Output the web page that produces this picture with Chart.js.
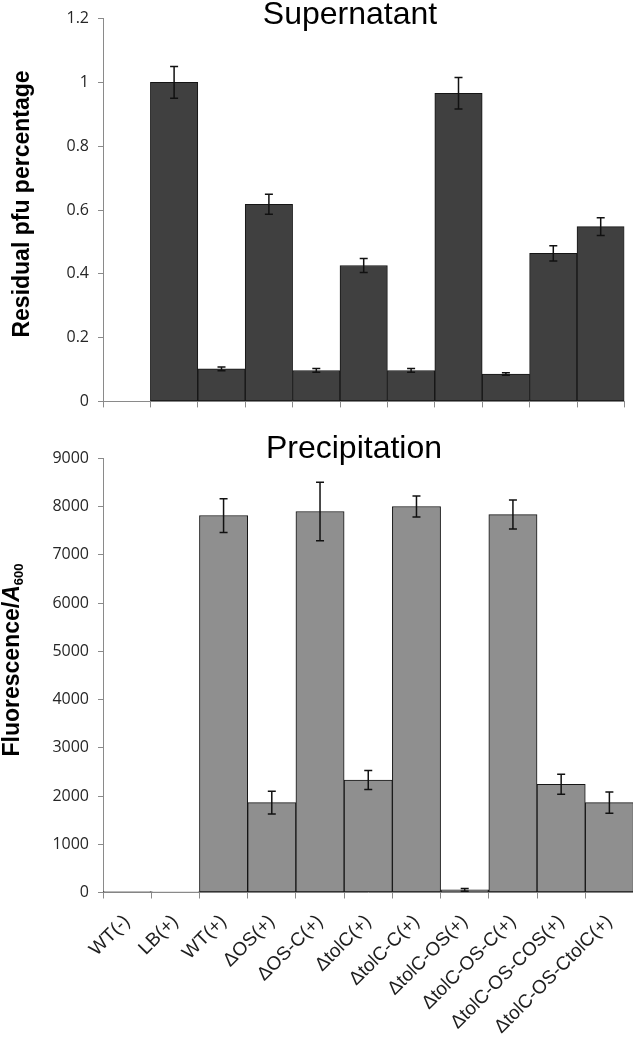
<!DOCTYPE html>
<html>
<head>
<meta charset="utf-8">
<script src="https://cdn.jsdelivr.net/npm/chart.js@4.4.1/dist/chart.umd.min.js"></script>
<style>
  html, body { margin: 0; padding: 0; background: #fff; overflow: hidden; }
  #wrap { position: relative; width: 633px; height: 1037px; overflow: hidden; }
  canvas { position: absolute; left: 0; }
  #chart-super  { top: 0; }
  #chart-precip { top: 420px; }
</style>
</head>
<body>
<div id="wrap">
  <canvas id="chart-super" width="633" height="420"></canvas>
  <canvas id="chart-precip" width="640" height="617"></canvas>
</div>
<script>
/* Supernatant / Precipitation bar panels with error bars */

const CATEGORIES = ["WT(-)", "LB(+)", "WT(+)", "ΔOS(+)", "ΔOS-C(+)", "ΔtolC(+)", "ΔtolC-C(+)",
                    "ΔtolC-OS(+)", "ΔtolC-OS-C(+)", "ΔtolC-OS-COS(+)", "ΔtolC-OS-CtolC(+)"];

const SUPER_VALUES = [null, 1.0, 0.102, 0.618, 0.097, 0.426, 0.097, 0.966, 0.086, 0.464, 0.548];
const SUPER_ERRORS = [null, 0.05, 0.006, 0.031, 0.006, 0.022, 0.006, 0.049, 0.004, 0.024, 0.028];
const SUPER_AXIS   = { min: 0, max: 1.2, step: 0.2 };

const PRECIP_VALUES = [20, 15, 7814, 1862, 7897, 2332, 8000, 55, 7834, 2242, 1862];
const PRECIP_ERRORS = [0, 0, 350, 235, 607, 195, 217, 30, 300, 207, 220];
const PRECIP_AXIS   = { min: 0, max: 9000, step: 1000 };

const AXIS_COLOR = "#8a8a8a";
const TICK_COLOR = "#262626";
const SANS  = "'Liberation Sans', Arial, sans-serif";
const TICKF = "'Open Sans', sans-serif";

/* ── error bars from the y scale ── */
const errorBars = {
  id: "errorBars",
  afterDatasetsDraw(chart, args, opts) {
    const { ctx } = chart;
    const y = chart.scales.y;
    const vals = chart.data.datasets[0].data;
    ctx.save();
    ctx.strokeStyle = "#111";
    ctx.lineWidth = 1.5;
    chart.getDatasetMeta(0).data.forEach((bar, i) => {
      const v = vals[i], e = opts.errors[i];
      if (v == null || !e) return;
      const t = y.getPixelForValue(v + e);
      const b = y.getPixelForValue(Math.max(0, v - e));
      ctx.beginPath();
      ctx.moveTo(bar.x, t);     ctx.lineTo(bar.x, b);
      ctx.moveTo(bar.x - 4, t); ctx.lineTo(bar.x + 4, t);
      ctx.moveTo(bar.x - 4, b); ctx.lineTo(bar.x + 4, b);
      ctx.stroke();
    });
    ctx.restore();
  },
};

/* ── panel title + rotated y title ── */
const panelText = {
  id: "panelText",
  afterDraw(chart, args, o) {
    const { ctx } = chart;
    ctx.save();
    ctx.fillStyle = "#000";
    ctx.textBaseline = "alphabetic";
    ctx.textAlign = "center";
    ctx.font = "32px " + SANS;
    ctx.fillText(o.title, o.titleX, o.titleY);

    ctx.translate(o.yTitleX, o.yTitleY);
    ctx.rotate(-Math.PI / 2);
    ctx.textAlign = "left";
    const widths = o.yTitle.map(p => { ctx.font = p.font; return ctx.measureText(p.text).width; });
    let x = -widths.reduce((a, b) => a + b, 0) / 2;
    o.yTitle.forEach((p, i) => {
      ctx.font = p.font;
      ctx.fillText(p.text, x, p.dy || 0);
      x += widths[i];
    });
    ctx.restore();
  },
};

function makePanel(id, cfg) {
  return new Chart(document.getElementById(id), {
    type: "bar",
    data: {
      labels: CATEGORIES,
      datasets: [{
        data: cfg.values,
        backgroundColor: cfg.fill,
        borderColor: "#151515",
        borderWidth: 1,
        borderSkipped: false,
        categoryPercentage: 1,
        barPercentage: 1,
      }],
    },
    options: {
      responsive: false,
      animation: false,
      layout: { padding: cfg.padding },
      plugins: {
        legend: { display: false },
        tooltip: { enabled: false },
        errorBars: { errors: cfg.errors },
        panelText: cfg.text,
      },
      scales: {
        x: {
          grid: { offset: true, drawOnChartArea: false, tickLength: 6, color: AXIS_COLOR },
          border: { color: AXIS_COLOR },
          ticks: cfg.xTicks,
          afterFit: s => { s.height = cfg.xHeight; },
        },
        y: {
          min: cfg.axis.min,
          max: cfg.axis.max,
          grid: { drawOnChartArea: false, tickLength: 5, color: AXIS_COLOR },
          border: { color: AXIS_COLOR },
          ticks: {
            stepSize: cfg.axis.step,
            padding: 9,
            color: TICK_COLOR,
            font: { family: TICKF, size: 16 },
            callback: v => String(+v.toFixed(1)),
          },
          afterFit: s => { s.width = 103; },
        },
      },
    },
    plugins: [errorBars, panelText],
  });
}

/* ── 상단: Supernatant ── */
makePanel("chart-super", {
  values: SUPER_VALUES,
  errors: SUPER_ERRORS,
  axis: SUPER_AXIS,
  fill: "#404040",
  padding: { left: 0, right: 8.6, top: 11.7, bottom: 0 },
  xHeight: 17.3,
  xTicks: { display: false },
  text: {
    title: "Supernatant", titleX: 350, titleY: 24,
    yTitleX: 29, yTitleY: 204,
    yTitle: [{ text: "Residual pfu percentage", font: "bold 23px " + SANS }],
  },
});

/* ── 하단: Precipitation ── */
makePanel("chart-precip", {
  values: PRECIP_VALUES,
  errors: PRECIP_ERRORS,
  axis: PRECIP_AXIS,
  fill: "#8f8f8f",
  padding: { left: 0, right: 6.5, top: 38.3, bottom: 0 },
  xHeight: 144.5,
  xTicks: {
    autoSkip: false,
    minRotation: 45,
    maxRotation: 45,
    padding: 12,
    color: "#1e1e1e",
    font: { family: SANS, size: 19 },
  },
  text: {
    title: "Precipitation", titleX: 354, titleY: 38.3,
    yTitleX: 19, yTitleY: 240,
    yTitle: [
      { text: "Fluorescence/", font: "bold 23px " + SANS },
      { text: "A", font: "italic bold 23px " + SANS },
      { text: "600", font: "bold 13px " + SANS, dy: 4 },
    ],
  },
});
</script>
</body>
</html>
